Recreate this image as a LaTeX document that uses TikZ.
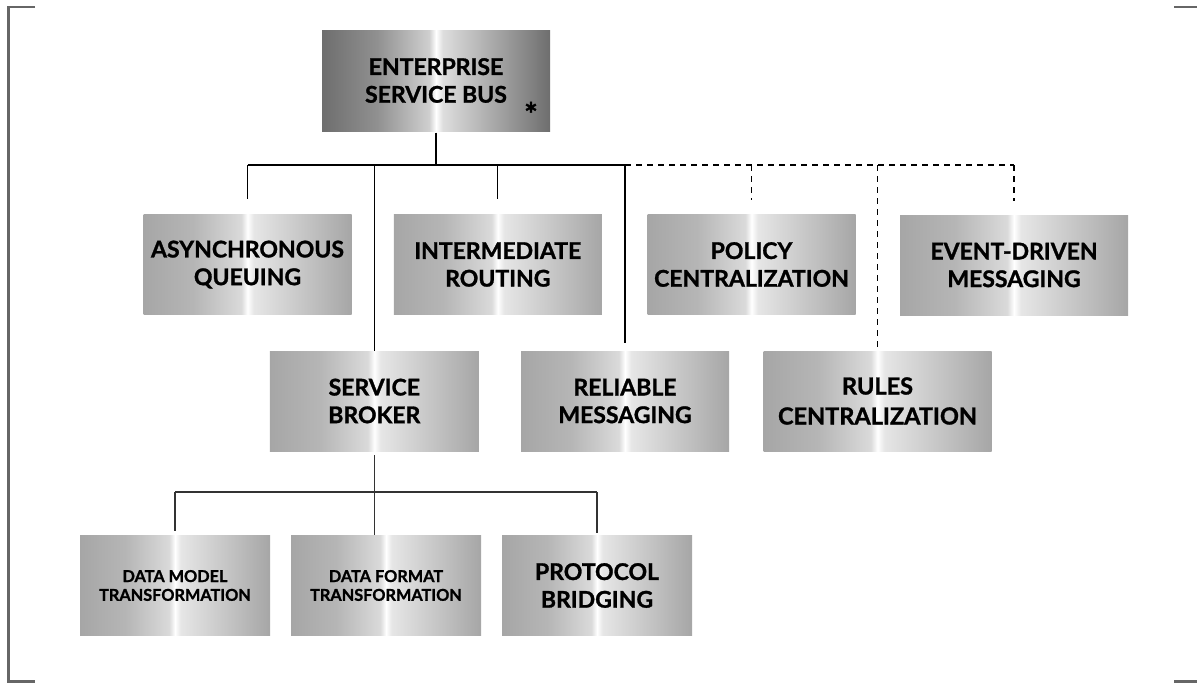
\documentclass[tikz,border=0pt]{standalone}
\usepackage{fontspec}
\setmainfont{Lato}[BoldFeatures={FakeBold=1.2}]
\usetikzlibrary{calc}
\definecolor{edgeA}{HTML}{A6A6A6}
\definecolor{midA}{HTML}{DADADA}
\definecolor{midB}{HTML}{E6E6E6}
\definecolor{edgeD}{HTML}{6E6E6E}
\definecolor{midD}{HTML}{CFCFCF}
\definecolor{midE}{HTML}{DDDDDD}
\definecolor{framegray}{HTML}{666666}
\definecolor{lowline}{HTML}{333333}
\pgfdeclarehorizontalshading{metal}{100bp}{color(0bp)=(edgeA); color(25bp)=(edgeA); color(37bp)=(edgeA!70!midA); color(48.5bp)=(midA); color(50bp)=(white); color(51.5bp)=(midB); color(75bp)=(edgeA); color(100bp)=(edgeA)}
\pgfdeclarehorizontalshading{metaldark}{100bp}{color(0bp)=(edgeD); color(25bp)=(edgeD); color(37bp)=(edgeD!65!midD); color(48.5bp)=(midD); color(50bp)=(white); color(51.5bp)=(midE); color(75bp)=(edgeD); color(100bp)=(edgeD)}
\begin{document}
\begin{tikzpicture}[x=1pt,y=-1pt,
  box/.style={shading=metal, inner sep=0pt, align=center, minimum height=100pt, minimum width=208pt, text=black, font=\bfseries\fontsize{23}{27.7}\selectfont},
  widebox/.style={box, minimum width=228pt},
  smallbox/.style={box, minimum width=190pt, font=\bfseries\fontsize{16.3}{18.8}\selectfont},
  conn/.style={line width=1.2pt, black},
  dconn/.style={conn, dash pattern=on 6pt off 5pt},
  lconn/.style={line width=1.2pt, lowline},
  frameline/.style={line width=2.2pt, framegray}
]
\useasboundingbox (0,0) rectangle (1197,683);
% frame marks
\draw[frameline] (35,7) -- (8.5,7) -- (8.5,681.5) -- (35,681.5);
\draw[frameline] (1174,7) -- (1197,7);
\draw[frameline] (1174,681.5) -- (1197,681.5);

% nodes
\node[widebox, shading=metaldark, minimum height=101pt] (esb) at (436,80.5) {ENTERPRISE\\SERVICE BUS};
\node[font=\bfseries\fontsize{32}{32}\selectfont, inner sep=0pt] (star) at (531,114) {*};

\node[box] (async) at (247.5,264.5) {ASYNCHRONOUS\\QUEUING};
\node[box] (inter) at (497.8,264.5) {INTERMEDIATE\\ROUTING};
\node[box] (policy) at (751.5,264.5) {POLICY\\CENTRALIZATION};
\node[widebox] (event) at (1014,265) {EVENT-DRIVEN\\MESSAGING};

\node[box, minimum width=209pt] (sb) at (374.3,401) {SERVICE\\BROKER};
\node[box] (reliable) at (625,401) {RELIABLE\\MESSAGING};
\node[widebox, font=\bfseries\fontsize{23.5}{30}\selectfont] (rules) at (877.5,401) {RULES\\CENTRALIZATION};

\node[smallbox] (dmt) at (175,585.5) {DATA MODEL\\TRANSFORMATION};
\node[smallbox] (dft) at (386,585.5) {DATA FORMAT\\TRANSFORMATION};
\node[smallbox, font=\bfseries\fontsize{23}{27.7}\selectfont] (pb) at (597,585.5) {PROTOCOL\\BRIDGING};

\coordinate (bus) at (0,165);
\coordinate (lbus) at (0,492);

% upper connectors
\draw[conn, shorten <=1.5pt] (esb.south) -- (esb.south |- bus);
\draw[conn] (async.north |- bus) -- (reliable.north |- bus);
\draw[dconn] (reliable.north |- bus) -- (event.north |- bus);
\draw[conn, shorten >=15pt] (async.north |- bus) -- (async.north);
\draw[conn, shorten >=15pt] (inter.north |- bus) -- (inter.north);
\draw[conn] (sb.north |- bus) -- (sb.north);
\draw[conn, shorten >=8pt] (reliable.north |- bus) -- (reliable.north);
\draw[dconn, shorten >=14pt] (policy.north |- bus) -- (policy.north);
\draw[dconn] (rules.north |- bus) -- (rules.north);
\draw[dconn, shorten >=14pt] (event.north |- bus) -- (event.north);

% lower connectors
\draw[lconn, shorten <=4pt] (sb.south) -- (sb.south |- dft.north);
\draw[lconn] (dmt.north |- lbus) -- (pb.north |- lbus);
\draw[lconn, shorten >=4pt] (dmt.north |- lbus) -- (dmt.north);
\draw[lconn, shorten >=2pt] (pb.north |- lbus) -- (pb.north);
\end{tikzpicture}
\end{document}
